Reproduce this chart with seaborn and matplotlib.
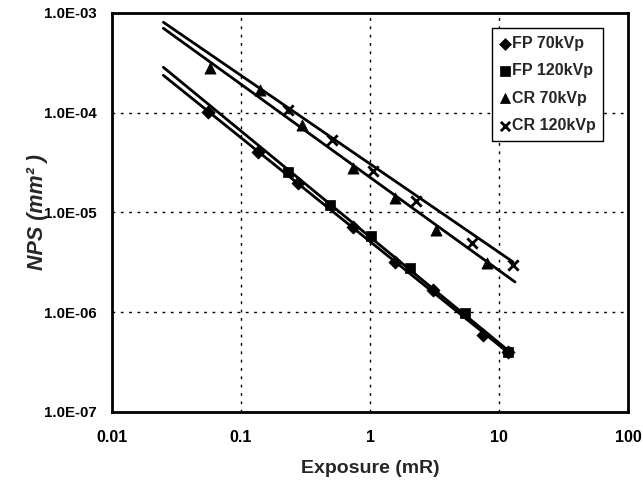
import numpy as np
import pandas as pd
import matplotlib
matplotlib.use("Agg")
import matplotlib.pyplot as plt
import seaborn as sns
from matplotlib.ticker import LogLocator, FixedLocator, FixedFormatter, NullFormatter

# Measured noise power vs. exposure
fp70_exposure = [0.055, 0.136, 0.277, 0.74, 1.56, 3.08, 7.5, 11.7]
fp70_nps = [1.02e-4, 4.05e-5, 1.98e-5, 7.2e-6, 3.19e-6, 1.67e-6, 5.9e-7, 4.0e-7]

fp120_exposure = [0.231, 0.49, 1.02, 2.04, 5.45, 11.7]
fp120_nps = [2.55e-5, 1.19e-5, 5.8e-6, 2.78e-6, 9.8e-7, 4.0e-7]

cr70_exposure = [0.057, 0.14, 0.296, 0.74, 1.56, 3.26, 8.0]
cr70_nps = [2.81e-4, 1.69e-4, 7.5e-5, 2.8e-5, 1.40e-5, 6.7e-6, 3.1e-6]

cr120_exposure = [0.231, 0.505, 1.05, 2.27, 6.2, 12.9]
cr120_nps = [1.07e-4, 5.3e-5, 2.6e-5, 1.30e-5, 4.9e-6, 2.98e-6]

series_names = ["FP 70kVp", "FP 120kVp", "CR 70kVp", "CR 120kVp"]

# Power-law trend lines NPS = k * E^p and the exposure span each one covers
trend_k = [5.12e-6, 5.68e-6, 2.25e-5, 3.07e-5]
trend_p = [-1.040, -1.062, -0.933, -0.8865]
trend_start = [0.025, 0.025, 0.025, 0.025]
trend_end = [12.2, 12.2, 13.3, 12.85]

x_ticks = [0.01, 0.1, 1, 10, 100]
x_tick_labels = ["0.01", "0.1", "1", "10", "100"]
y_ticks = [1e-7, 1e-6, 1e-5, 1e-4, 1e-3]
y_tick_labels = ["1.0E-07", "1.0E-06", "1.0E-05", "1.0E-04", "1.0E-03"]

sns.set_theme(style="white")
plt.rcParams["font.family"] = ["Liberation Sans", "DejaVu Sans"]

rows = []
for name, xs, ys in zip(series_names,
                        [fp70_exposure, fp120_exposure, cr70_exposure, cr120_exposure],
                        [fp70_nps, fp120_nps, cr70_nps, cr120_nps]):
    for x, y in zip(xs, ys):
        rows.append({"series": name, "exposure": x, "nps": y})
df = pd.DataFrame(rows)

fit_rows = []
for name, k, p, lo, hi in zip(series_names, trend_k, trend_p, trend_start, trend_end):
    for x in (lo, hi):
        fit_rows.append({"series": name, "exposure": x, "nps": k * x ** p})
fit_df = pd.DataFrame(fit_rows)

fig = plt.figure(figsize=(6.43, 4.90), dpi=100)
ax = fig.add_axes([0.1742, 0.1592, 0.8025, 0.8143])

sns.lineplot(data=fit_df, x="exposure", y="nps", units="series", estimator=None,
             color="black", linewidth=2.0, ax=ax, legend=False)

markers = {"FP 70kVp": "D", "FP 120kVp": "s", "CR 70kVp": "^", "CR 120kVp": "x"}
sizes = {"FP 70kVp": 45, "FP 120kVp": 55, "CR 70kVp": 65, "CR 120kVp": 55}
for name in series_names:
    sub = df[df["series"] == name]
    kw = dict(color="black", marker=markers[name], s=sizes[name], ax=ax, label=name)
    if markers[name] == "x":
        kw.update(linewidth=2.0)
    else:
        kw.update(edgecolor="black", linewidth=0.5)
    sns.scatterplot(data=sub, x="exposure", y="nps", **kw)

ax.set_xscale("log")
ax.set_yscale("log")
ax.set_xlim(0.01, 100)
ax.set_ylim(1e-7, 1e-3)

ax.xaxis.set_major_locator(FixedLocator(x_ticks))
ax.xaxis.set_major_formatter(FixedFormatter(x_tick_labels))
ax.yaxis.set_major_locator(FixedLocator(y_ticks))
ax.yaxis.set_major_formatter(FixedFormatter(y_tick_labels))
ax.xaxis.set_minor_locator(LogLocator(base=10, subs=np.arange(2, 10)))
ax.yaxis.set_minor_locator(LogLocator(base=10, subs=np.arange(2, 10)))
ax.xaxis.set_minor_formatter(NullFormatter())
ax.yaxis.set_minor_formatter(NullFormatter())

ax.tick_params(axis="both", which="major", direction="in", length=4, width=1,
               colors="black")
ax.tick_params(axis="x", which="major", pad=13)
ax.tick_params(axis="y", which="major", pad=11)
ax.tick_params(axis="both", which="minor", direction="in", length=2.5, width=0.8,
               colors="black")
for lab in ax.get_xticklabels():
    lab.set_fontweight("bold")
    lab.set_fontsize(11.5)
for lab in ax.get_yticklabels():
    lab.set_fontweight("bold")
    lab.set_fontsize(10.8)

ax.grid(True, which="major", color="black", linestyle=(0, (2, 4)), linewidth=1.0)
for sp in ax.spines.values():
    sp.set_visible(True)
    sp.set_color("black")
    sp.set_linewidth(2.0)

ax.set_xlabel("Exposure (mR)", fontsize=14, fontweight="bold", labelpad=11)
ax.set_ylabel("NPS (mm² )", fontsize=15.5, fontweight="bold", fontstyle="italic",
              labelpad=-3)

leg = ax.legend(loc="upper left", bbox_to_anchor=(0.736, 0.963), frameon=True,
                fancybox=False, edgecolor="black", framealpha=1,
                prop={"weight": "bold", "size": 11.5}, handletextpad=0.15,
                handlelength=0.6, borderpad=0.5, borderaxespad=0,
                labelspacing=0.78, markerscale=0.9)
leg.get_frame().set_linewidth(1.0)

fig.savefig("out.png", dpi=100, facecolor="white")
